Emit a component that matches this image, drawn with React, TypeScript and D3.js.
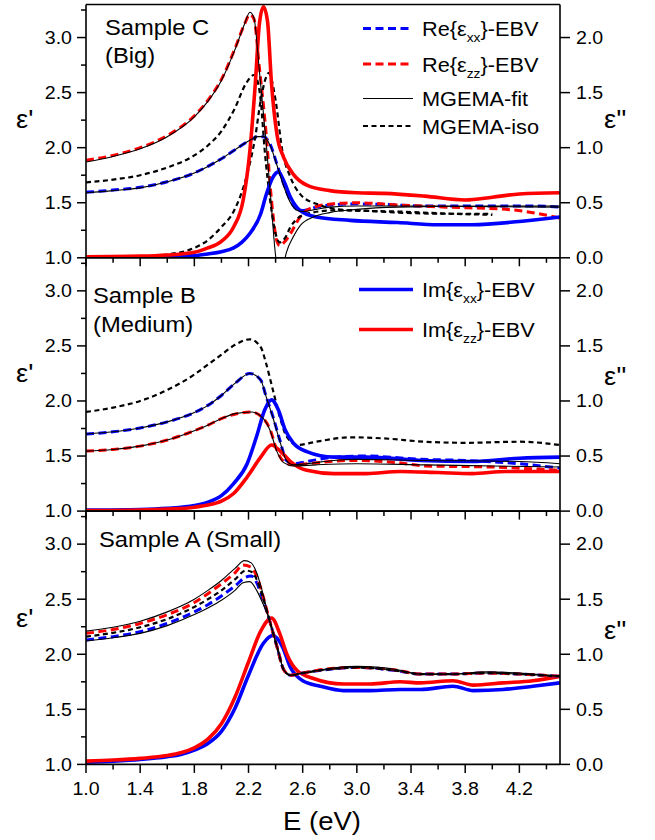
import React from 'react';
import * as d3 from 'd3';

type P = [number, number];

// ---------- axis ticks ----------
const X_MAJOR = [1.0, 1.4, 1.8, 2.2, 2.6, 3.0, 3.4, 3.8, 4.2];
const X_MINOR = [1.2, 1.6, 2.0, 2.4, 2.8, 3.2, 3.6, 4.0, 4.4];
const L_MAJOR = [1.0, 1.5, 2.0, 2.5, 3.0];
const L_MINOR = [1.25, 1.75, 2.25, 2.75, 3.25];
const R_MAJOR = [0.0, 0.5, 1.0, 1.5, 2.0];

// ---------- Sample C (Big) ----------
const C_reXX: P[] = [[1.0,1.595],[1.2,1.615],[1.4,1.64],[1.6,1.69],[1.8,1.77],[1.9,1.83],[2.0,1.90],[2.1,1.98],[2.2,2.06],[2.27,2.10],[2.31,2.10],[2.36,2.03],[2.41,1.85],[2.46,1.67],[2.51,1.52],[2.56,1.44],[2.61,1.43],[2.7,1.46],[2.8,1.48],[3.0,1.49],[3.2,1.485],[3.5,1.47],[4.0,1.47],[4.3,1.47],[4.5,1.46]];
const C_fitXX: P[] = [[1.0,1.59],[1.2,1.61],[1.4,1.635],[1.6,1.69],[1.8,1.77],[1.9,1.83],[2.0,1.90],[2.1,1.98],[2.2,2.06],[2.27,2.10],[2.31,2.10],[2.36,2.02],[2.41,1.84],[2.46,1.65],[2.51,1.50],[2.56,1.43],[2.6,1.42],[2.7,1.44],[2.8,1.46],[3.0,1.47],[3.5,1.47],[4.0,1.465],[4.5,1.46]];
const C_reZZ: P[] = [[1.0,1.885],[1.2,1.93],[1.4,2.0],[1.6,2.11],[1.8,2.29],[1.9,2.43],[2.0,2.62],[2.1,2.90],[2.17,3.12],[2.21,3.21],[2.24,3.17],[2.28,2.73],[2.33,2.13],[2.37,1.52],[2.41,1.15],[2.43,1.11],[2.47,1.15],[2.51,1.22],[2.58,1.37],[2.68,1.46],[2.83,1.49],[3.0,1.50],[3.3,1.48],[3.66,1.46],[4.1,1.44],[4.3,1.41],[4.5,1.36]];
const C_fitZZ: P[] = [[1.0,1.87],[1.2,1.92],[1.4,1.99],[1.6,2.10],[1.8,2.28],[1.9,2.42],[2.0,2.61],[2.1,2.89],[2.17,3.12],[2.21,3.23],[2.24,3.18],[2.28,2.70],[2.33,2.05],[2.37,1.45],[2.40,1.02],[2.43,0.85],[2.46,0.95],[2.48,1.05],[2.53,1.19],[2.58,1.29],[2.68,1.37],[2.8,1.41],[3.0,1.44],[3.3,1.46],[4.0,1.47],[4.5,1.47]];
const C_isoRe: P[] = [[1.0,1.685],[1.2,1.71],[1.4,1.75],[1.6,1.82],[1.8,1.93],[1.9,2.02],[2.0,2.15],[2.1,2.36],[2.18,2.58],[2.24,2.66],[2.26,2.63],[2.29,2.43],[2.32,1.97],[2.36,1.52],[2.40,1.22],[2.43,1.14],[2.47,1.18],[2.51,1.28],[2.63,1.40],[2.83,1.43],[3.0,1.43],[3.3,1.41],[3.7,1.40],[4.0,1.40]];
const C_isoIm: P[] = [[1.0,0.0],[1.4,0.01],[1.6,0.03],[1.8,0.09],[1.9,0.16],[2.0,0.28],[2.09,0.42],[2.19,0.76],[2.25,1.10],[2.29,1.43],[2.33,1.64],[2.35,1.68],[2.37,1.62],[2.40,1.43],[2.45,0.97],[2.51,0.73],[2.58,0.58],[2.70,0.49],[2.95,0.43],[3.3,0.42],[3.7,0.40],[4.0,0.39]];
const C_imXX: P[] = [[1.0,0.005],[1.4,0.007],[1.6,0.01],[1.8,0.02],[1.9,0.035],[2.0,0.055],[2.09,0.09],[2.15,0.14],[2.21,0.22],[2.29,0.40],[2.33,0.57],[2.38,0.73],[2.42,0.78],[2.46,0.70],[2.51,0.55],[2.58,0.43],[2.7,0.37],[2.95,0.34],[3.3,0.32],[3.6,0.30],[3.85,0.30],[4.2,0.33],[4.5,0.37]];
const C_imZZ: P[] = [[1.0,0.01],[1.4,0.015],[1.6,0.025],[1.8,0.05],[1.9,0.09],[2.0,0.15],[2.09,0.28],[2.16,0.52],[2.21,0.97],[2.25,1.58],[2.28,2.12],[2.31,2.28],[2.34,2.15],[2.37,1.58],[2.41,1.12],[2.46,0.91],[2.53,0.76],[2.63,0.66],[2.8,0.61],[3.0,0.59],[3.2,0.585],[3.5,0.56],[3.8,0.525],[4.0,0.55],[4.2,0.58],[4.5,0.59]];

// ---------- Sample B (Medium) ----------
const B_isoRe: P[] = [[1.0,1.90],[1.2,1.94],[1.4,2.00],[1.6,2.10],[1.8,2.24],[1.9,2.33],[2.0,2.42],[2.1,2.51],[2.21,2.56],[2.29,2.49],[2.33,2.34],[2.38,2.10],[2.43,1.86],[2.48,1.68],[2.56,1.60],[2.7,1.63],[2.95,1.67],[3.2,1.66],[3.5,1.63],[3.8,1.62],[4.2,1.63],[4.5,1.60]];
const B_reXX: P[] = [[1.0,1.70],[1.2,1.72],[1.4,1.755],[1.6,1.81],[1.8,1.895],[1.9,1.96],[2.0,2.05],[2.1,2.16],[2.21,2.25],[2.29,2.19],[2.33,2.04],[2.38,1.86],[2.43,1.65],[2.48,1.46],[2.53,1.43],[2.63,1.45],[2.83,1.49],[3.07,1.50],[3.47,1.47],[3.8,1.46],[4.2,1.43],[4.5,1.39]];
const B_fitXX: P[] = [[1.0,1.70],[1.2,1.72],[1.4,1.755],[1.6,1.81],[1.8,1.895],[1.9,1.96],[2.0,2.05],[2.1,2.16],[2.21,2.25],[2.29,2.19],[2.33,2.04],[2.38,1.85],[2.43,1.64],[2.48,1.46],[2.53,1.42],[2.63,1.43],[2.83,1.46],[3.0,1.47],[3.5,1.46],[4.2,1.45],[4.5,1.43]];
const B_reZZ: P[] = [[1.0,1.545],[1.2,1.56],[1.4,1.59],[1.6,1.645],[1.8,1.73],[1.9,1.78],[2.0,1.84],[2.1,1.88],[2.22,1.90],[2.31,1.84],[2.36,1.74],[2.41,1.55],[2.46,1.45],[2.53,1.42],[2.63,1.43],[2.95,1.46],[3.3,1.44],[3.5,1.41],[4.0,1.40],[4.5,1.37]];
const B_fitZZ: P[] = [[1.0,1.545],[1.2,1.56],[1.4,1.59],[1.6,1.645],[1.8,1.73],[1.9,1.78],[2.0,1.84],[2.1,1.885],[2.22,1.90],[2.31,1.84],[2.36,1.73],[2.41,1.54],[2.46,1.44],[2.53,1.41],[2.7,1.42],[3.0,1.43],[3.5,1.42],[4.0,1.41],[4.5,1.40]];
const B_imXX: P[] = [[1.0,0.01],[1.4,0.015],[1.6,0.025],[1.8,0.05],[1.9,0.08],[2.0,0.14],[2.09,0.25],[2.19,0.43],[2.26,0.68],[2.32,0.92],[2.37,1.01],[2.42,0.92],[2.47,0.74],[2.53,0.62],[2.63,0.54],[2.83,0.49],[3.07,0.49],[3.47,0.46],[3.85,0.45],[4.2,0.48],[4.5,0.49]];
const B_imZZ: P[] = [[1.0,0.005],[1.4,0.01],[1.6,0.018],[1.8,0.035],[1.9,0.055],[2.0,0.09],[2.09,0.16],[2.19,0.31],[2.29,0.49],[2.37,0.60],[2.43,0.55],[2.51,0.45],[2.63,0.37],[2.83,0.34],[3.07,0.34],[3.32,0.36],[3.6,0.35],[3.85,0.34],[4.1,0.36],[4.5,0.36]];

// ---------- Sample A (Small) ----------
const A_fitZZ: P[] = [[1.0,2.21],[1.2,2.245],[1.4,2.30],[1.6,2.385],[1.8,2.50],[1.9,2.58],[2.0,2.67],[2.1,2.78],[2.17,2.85],[2.22,2.83],[2.26,2.74],[2.30,2.58],[2.35,2.33],[2.41,2.07],[2.46,1.86],[2.51,1.81],[2.6,1.83],[2.85,1.88],[3.0,1.89],[3.3,1.86],[3.47,1.82],[3.7,1.82],[3.96,1.84],[4.2,1.83],[4.5,1.80]];
const A_reZZ: P[] = [[1.0,2.19],[1.2,2.225],[1.4,2.28],[1.6,2.36],[1.8,2.47],[1.9,2.55],[2.0,2.64],[2.1,2.74],[2.16,2.81],[2.22,2.79],[2.26,2.71],[2.30,2.56],[2.35,2.33],[2.41,2.07],[2.46,1.86],[2.51,1.81],[2.6,1.83],[2.85,1.875],[3.0,1.88],[3.3,1.855],[3.47,1.82],[3.7,1.82],[3.96,1.83],[4.2,1.82],[4.5,1.80]];
const A_isoRe: P[] = [[1.0,2.16],[1.2,2.195],[1.4,2.245],[1.6,2.32],[1.8,2.43],[1.9,2.50],[2.0,2.58],[2.1,2.68],[2.18,2.76],[2.22,2.75],[2.26,2.68],[2.30,2.54],[2.35,2.33],[2.41,2.07],[2.46,1.86],[2.51,1.81],[2.6,1.83],[2.85,1.87],[3.0,1.88],[3.3,1.85],[3.47,1.82],[3.7,1.82],[3.96,1.83],[4.2,1.82],[4.5,1.80]];
const A_reXX: P[] = [[1.0,2.13],[1.2,2.16],[1.4,2.205],[1.6,2.28],[1.8,2.385],[1.9,2.45],[2.0,2.53],[2.1,2.62],[2.18,2.70],[2.22,2.71],[2.26,2.65],[2.30,2.52],[2.35,2.33],[2.41,2.07],[2.46,1.86],[2.51,1.81],[2.6,1.83],[2.85,1.87],[3.0,1.88],[3.3,1.85],[3.47,1.82],[3.7,1.82],[3.96,1.83],[4.2,1.82],[4.5,1.80]];
const A_fitXX: P[] = [[1.0,2.12],[1.2,2.15],[1.4,2.19],[1.6,2.26],[1.8,2.36],[1.9,2.42],[2.0,2.49],[2.1,2.58],[2.16,2.65],[2.21,2.66],[2.26,2.58],[2.31,2.45],[2.35,2.33],[2.41,2.07],[2.46,1.86],[2.51,1.81],[2.6,1.83],[2.85,1.87],[3.0,1.88],[3.3,1.85],[3.47,1.82],[3.7,1.82],[3.96,1.83],[4.2,1.82],[4.5,1.80]];
const A_imZZ: P[] = [[1.0,0.03],[1.2,0.04],[1.4,0.055],[1.6,0.08],[1.7,0.105],[1.8,0.15],[1.9,0.23],[2.0,0.37],[2.1,0.61],[2.2,0.93],[2.29,1.21],[2.37,1.33],[2.43,1.19],[2.48,1.01],[2.56,0.85],[2.68,0.78],[2.9,0.73],[3.1,0.73],[3.32,0.75],[3.47,0.74],[3.71,0.76],[3.86,0.72],[4.08,0.74],[4.3,0.76],[4.5,0.80]];
const A_imXX: P[] = [[1.0,0.02],[1.2,0.03],[1.4,0.045],[1.6,0.07],[1.7,0.09],[1.8,0.13],[1.9,0.19],[2.0,0.30],[2.1,0.51],[2.2,0.81],[2.31,1.10],[2.38,1.17],[2.45,1.07],[2.51,0.88],[2.6,0.76],[2.73,0.71],[2.9,0.67],[3.1,0.67],[3.32,0.68],[3.47,0.68],[3.71,0.71],[3.86,0.67],[4.08,0.68],[4.3,0.71],[4.5,0.74]];

// ---------- layout ----------
const X0 = 86, X1 = 560;
const PANEL_H = 253.3;
const TOPS = [4.5, 257.8, 511.1];
const FONT = "'Liberation Sans', Arial, sans-serif";
const BLUE = '#0000ff', RED = '#ff0000';

type Style = { color: string; width: number; dash?: string };
const S_reXX: Style = { color: BLUE, width: 3, dash: '8 4.5' };
const S_reZZ: Style = { color: RED, width: 3, dash: '8 4.5' };
const S_imXX: Style = { color: BLUE, width: 3.6 };
const S_imZZ: Style = { color: RED, width: 3.6 };
const S_fit: Style = { color: '#000', width: 1.1 };
const S_iso: Style = { color: '#000', width: 2.2, dash: '5 3.5' };

type Series = { data: P[]; axis: 'L' | 'R'; style: Style };

const panels: { series: Series[]; labels: { text: string; x: number; y: number }[]; epsL: number; epsR: number }[] = [
  {
    series: [
      { data: C_reXX, axis: 'L', style: S_reXX },
      { data: C_reZZ, axis: 'L', style: S_reZZ },
      { data: C_isoRe, axis: 'L', style: S_iso },
      { data: C_isoIm, axis: 'R', style: S_iso },
      { data: C_imXX, axis: 'R', style: S_imXX },
      { data: C_imZZ, axis: 'R', style: S_imZZ },
      { data: C_fitXX, axis: 'L', style: S_fit },
      { data: C_fitZZ, axis: 'L', style: S_fit },
    ],
    labels: [{ text: 'Sample C', x: 105, y: 35 }, { text: '(Big)', x: 105, y: 63 }],
    epsL: 128, epsR: 128,
  },
  {
    series: [
      { data: B_isoRe, axis: 'L', style: S_iso },
      { data: B_reXX, axis: 'L', style: S_reXX },
      { data: B_reZZ, axis: 'L', style: S_reZZ },
      { data: B_imXX, axis: 'R', style: S_imXX },
      { data: B_imZZ, axis: 'R', style: S_imZZ },
      { data: B_fitXX, axis: 'L', style: S_fit },
      { data: B_fitZZ, axis: 'L', style: S_fit },
    ],
    labels: [{ text: 'Sample B', x: 93, y: 303 }, { text: '(Medium)', x: 93, y: 332 }],
    epsL: 382, epsR: 385,
  },
  {
    series: [
      { data: A_imXX, axis: 'R', style: S_imXX },
      { data: A_imZZ, axis: 'R', style: S_imZZ },
      { data: A_reXX, axis: 'L', style: S_reXX },
      { data: A_reZZ, axis: 'L', style: S_reZZ },
      { data: A_isoRe, axis: 'L', style: S_iso },
      { data: A_fitXX, axis: 'L', style: S_fit },
      { data: A_fitZZ, axis: 'L', style: S_fit },
    ],
    labels: [{ text: 'Sample A (Small)', x: 99, y: 547 }],
    epsL: 627, epsR: 639,
  },
];

const legendTop = [
  { pre: 'Re{ε', sub: 'xx', style: S_reXX, y: 28.5 },
  { pre: 'Re{ε', sub: 'zz', style: S_reZZ, y: 64 },
  { pre: 'MGEMA-fit', sub: '', style: S_fit, y: 98.5 },
  { pre: 'MGEMA-iso', sub: '', style: S_iso, y: 126 },
];
const legendMid = [
  { pre: 'Im{ε', sub: 'xx', style: S_imXX, y: 289.5 },
  { pre: 'Im{ε', sub: 'zz', style: S_imZZ, y: 329.5 },
];

const x = d3.scaleLinear().domain([1, 4.5]).range([X0, X1]);

function T({ x: tx, y: ty, size, sx = 1.12, anchor = 'start', children, dy }: any) {
  return (
    <text transform={`translate(${tx},${ty}) scale(${sx},1)`} fontSize={size} fontFamily={FONT}
      textAnchor={anchor} dy={dy} fill="#000">{children}</text>
  );
}

export default function App() {
  return (
    <svg width={655} height={840} style={{ display: 'block', position: 'absolute', left: 0, top: 0, background: '#fff' }}>
      <rect x={0} y={0} width={655} height={840} fill="#fff" />
      <defs>
        {TOPS.map((t, i) => (
          <clipPath id={`clip${i}`} key={i}>
            <rect x={X0} y={t} width={X1 - X0} height={PANEL_H} />
          </clipPath>
        ))}
      </defs>
      {panels.map((p, i) => {
        const top = TOPS[i];
        const bot = top + PANEL_H;
        const yL = d3.scaleLinear().domain([1, 3.3]).range([bot, top]);
        const yR = d3.scaleLinear().domain([0, 2.3]).range([bot, top]);
        return (
          <g key={i}>
            <g clipPath={`url(#clip${i})`}>
              {p.series.map((s, j) => {
                const ys = s.axis === 'L' ? yL : yR;
                const line = d3.line<P>().x(d => x(d[0])).y(d => ys(d[1])).curve(d3.curveMonotoneX);
                return (
                  <path key={j} d={line(s.data) || ''} fill="none" stroke={s.style.color}
                    strokeWidth={s.style.width} strokeDasharray={s.style.dash} strokeLinejoin="round" />
                );
              })}
            </g>
            {/* frame */}
            <line x1={X0} x2={X1} y1={top} y2={top} stroke="#000" strokeWidth={1.6} />
            <line x1={X0} x2={X1} y1={bot} y2={bot} stroke="#000" strokeWidth={1.6} />
            <line x1={X0} x2={X0} y1={top} y2={bot} stroke="#000" strokeWidth={1.6} />
            <line x1={X1} x2={X1} y1={top} y2={bot} stroke="#000" strokeWidth={1.6} />
            {/* x ticks */}
            {X_MAJOR.map(v => <line key={'xm' + v} x1={x(v)} x2={x(v)} y1={bot} y2={bot + 8.5} stroke="#000" strokeWidth={1.5} />)}
            {X_MINOR.map(v => <line key={'xn' + v} x1={x(v)} x2={x(v)} y1={bot} y2={bot + 5} stroke="#000" strokeWidth={1.5} />)}
            {/* left ticks */}
            {L_MAJOR.map(v => <line key={'lm' + v} x1={X0 - 9} x2={X0} y1={yL(v)} y2={yL(v)} stroke="#000" strokeWidth={1.5} />)}
            {L_MINOR.map(v => <line key={'ln' + v} x1={X0 - 5} x2={X0} y1={yL(v)} y2={yL(v)} stroke="#000" strokeWidth={1.5} />)}
            {L_MAJOR.map(v => <T key={'lt' + v} x={72} y={yL(v)} size={17.5} anchor="end" dy="0.36em">{v.toFixed(1)}</T>)}
            {/* right ticks */}
            {R_MAJOR.map(v => <line key={'rm' + v} x1={X1} x2={X1 + 10} y1={yR(v)} y2={yR(v)} stroke="#000" strokeWidth={1.5} />)}
            {R_MAJOR.map(v => <T key={'rt' + v} x={576} y={yR(v)} size={17.5} dy="0.36em">{v.toFixed(1)}</T>)}
            {/* axis titles */}
            <T x={16} y={p.epsL} size={26} sx={1.05}>ε'</T>
            <T x={604} y={p.epsR} size={26} sx={1.05}>ε''</T>
            {p.labels.map((l, k) => <T key={k} x={l.x} y={l.y} size={22} sx={1.08}>{l.text}</T>)}
          </g>
        );
      })}
      {/* bottom tick labels */}
      {X_MAJOR.map(v => <T key={'bx' + v} x={x(v)} y={795} size={17.5} anchor="middle">{v.toFixed(1)}</T>)}
      <T x={322} y={830} size={25} anchor="middle" sx={1.1}>E (eV)</T>
      {/* legends */}
      {[...legendTop, ...legendMid].map((l, k) => (
        <g key={'lg' + k}>
          <line x1={k < 4 ? 363 : 359} x2={413} y1={l.y} y2={l.y} stroke={l.style.color}
            strokeWidth={l.style.width} strokeDasharray={l.style.dash} />
          <text transform={`translate(422,${l.y + 7.5}) scale(1.06,1)`} fontSize={20.5} fontFamily={FONT} fill="#000">
            {l.pre}
            {l.sub ? <tspan fontSize={13} dy={6}>{l.sub}</tspan> : null}
            {l.sub ? <tspan dy={-6}>{'}-EBV'}</tspan> : null}
          </text>
        </g>
      ))}
    </svg>
  );
}
